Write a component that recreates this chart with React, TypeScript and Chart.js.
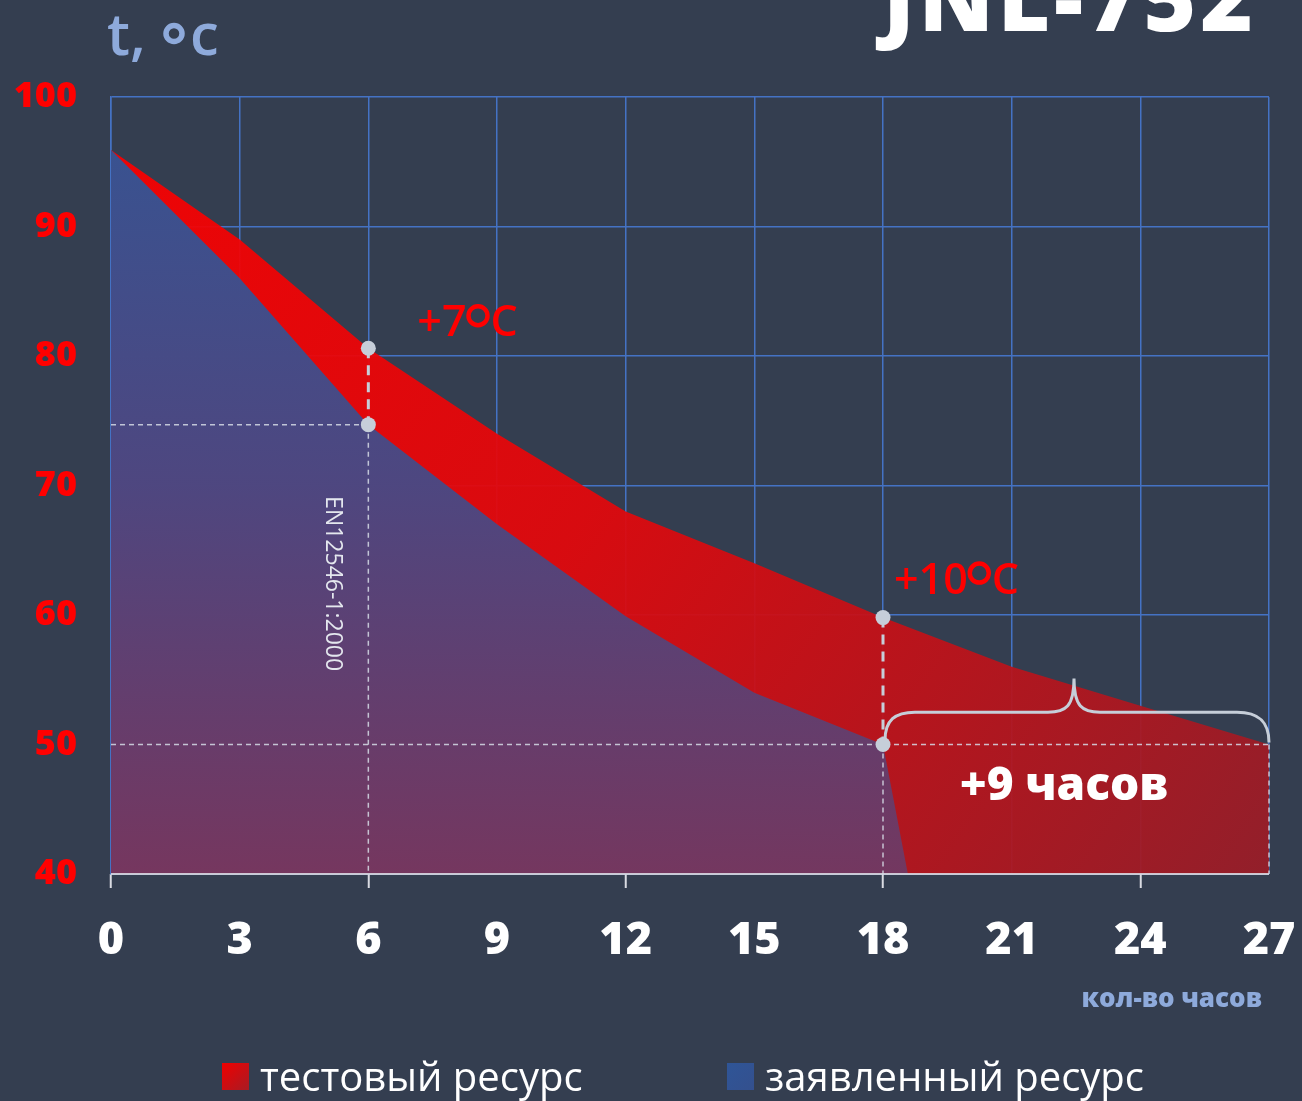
import React, { useEffect, useRef } from "react";
import { Chart, registerables } from "chart.js";
Chart.register(...registerables);

// ---- data ----
const hours = [0, 3, 6, 9, 12, 15, 18, 21, 24, 27];
const testTemps = [95.9, 89.0, 80.6, 74.0, 68.0, 64.0, 59.8, 56.0, 53.0, 50.0];
const declaredHours = [0, 3, 6, 9, 12, 15, 18, 18.58];
const declaredTemps = [95.9, 86.0, 74.7, 67.0, 59.9, 54.0, 50.0, 40.0];
const yTicks = [40, 50, 60, 70, 80, 90, 100];
const seriesNames = ["тестовый ресурс", "заявленный ресурс"];
const markerIndex = [2, 6];
const deltaLabels = ["+7", "+10"];
const limitTemp = 50;
const limitHours = [18, 27];
const extraLabel = "+9 часов";
const standardLabel = "EN12546-1:2000";
const titleText = "JNL-752";
const yTitle = ["t,", "c"];
const xTitle = "кол-во часов";

const BG = "#343e50";
const GRID = "#4472c4";
const LIGHT = "#c6ced9";
const FONT = '"Open Sans", sans-serif';

function redGradient(ctx: CanvasRenderingContext2D, a: any) {
  const g = ctx.createLinearGradient(a.left, a.top, a.right, a.bottom);
  g.addColorStop(0, "rgba(250,0,0,0.94)");
  g.addColorStop(0.45, "rgba(226,8,12,0.94)");
  g.addColorStop(1, "rgba(152,29,40,0.94)");
  return g;
}
function blueGradient(ctx: CanvasRenderingContext2D, a: any) {
  const g = ctx.createLinearGradient(0, a.top, 0, a.bottom);
  g.addColorStop(0, "rgba(44,88,154,0.95)");
  g.addColorStop(0.5, "rgba(70,74,134,0.95)");
  g.addColorStop(1, "rgba(112,57,99,0.95)");
  return g;
}

const annotPlugin = {
  id: "annot",
  beforeDraw(chart: any) {
    const c = chart.ctx;
    c.save();
    c.fillStyle = BG;
    c.fillRect(0, 0, chart.width, chart.height);
    c.restore();
  },
  afterDatasetsDraw(chart: any) {
    const c: CanvasRenderingContext2D = chart.ctx;
    const xs = (v: number) => chart.scales.x.getPixelForValue(v);
    const ys = (v: number) => chart.scales.y.getPixelForValue(v);
    const yMin = yTicks[0];
    c.save();
    // bottom axis line
    c.strokeStyle = "rgba(222,224,232,0.85)";
    c.lineWidth = 2;
    c.beginPath();
    c.moveTo(xs(hours[0]), ys(yMin));
    c.lineTo(xs(hours[hours.length - 1]), ys(yMin));
    c.stroke();

    // thin dashed guides
    c.strokeStyle = "rgba(214,220,230,0.85)";
    c.lineWidth = 1.5;
    c.setLineDash([5, 4]);
    const m0 = markerIndex[0];
    const m1 = markerIndex[1];
    const thin = (x1: number, y1: number, x2: number, y2: number) => {
      c.beginPath();
      c.moveTo(x1, y1);
      c.lineTo(x2, y2);
      c.stroke();
    };
    thin(xs(0), ys(declaredTemps[m0]), xs(hours[m0]), ys(declaredTemps[m0]));
    thin(xs(hours[m0]), ys(declaredTemps[m0]), xs(hours[m0]), ys(yMin));
    thin(xs(0), ys(limitTemp), xs(limitHours[1]), ys(limitTemp));
    thin(xs(limitHours[0]), ys(limitTemp), xs(limitHours[0]), ys(yMin));
    thin(xs(limitHours[1]), ys(limitTemp), xs(limitHours[1]), ys(yMin));

    // thick dashed between markers
    c.strokeStyle = LIGHT;
    c.lineWidth = 3;
    c.setLineDash([10, 7]);
    markerIndex.forEach((mi) => {
      c.beginPath();
      c.moveTo(xs(hours[mi]), ys(testTemps[mi]));
      c.lineTo(xs(hours[mi]), ys(declaredTemps[mi]));
      c.stroke();
    });
    c.setLineDash([]);

    // brace
    const bx0 = xs(limitHours[0]);
    const bx1 = xs(limitHours[1]);
    const by = ys(limitTemp);
    const hy = ys(52.5);
    const py = ys(55.1);
    const mx = (bx0 + bx1) / 2 - 2;
    c.strokeStyle = LIGHT;
    c.lineWidth = 3;
    c.beginPath();
    c.moveTo(bx0 + 2, by - 4);
    c.bezierCurveTo(bx0 + 2, hy + 8, bx0 + 12, hy, bx0 + 32, hy);
    c.lineTo(mx - 26, hy);
    c.bezierCurveTo(mx - 8, hy, mx, hy - 6, mx, py);
    c.moveTo(mx, py);
    c.bezierCurveTo(mx, hy - 6, mx + 8, hy, mx + 26, hy);
    c.lineTo(bx1 - 32, hy);
    c.bezierCurveTo(bx1 - 12, hy, bx1, hy + 8, bx1, by - 2);
    c.stroke();

    // marker dots
    c.fillStyle = LIGHT;
    markerIndex.forEach((mi) => {
      [testTemps[mi], declaredTemps[mi]].forEach((t) => {
        c.beginPath();
        c.arc(xs(hours[mi]), ys(t), 7.5, 0, Math.PI * 2);
        c.fill();
      });
    });

    // delta labels
    const drawDelta = (txt: string, x: number, base: number) => {
      const size = 43;
      c.font = `600 ${size}px ${FONT}`;
      c.fillStyle = "#ff0000";
      c.textAlign = "left";
      c.textBaseline = "alphabetic";
      c.fillText(txt, x, base);
      const w = c.measureText(txt).width;
      const r = 9.5;
      c.strokeStyle = "#ff0000";
      c.lineWidth = 4.5;
      c.beginPath();
      c.arc(x + w + r + 2, base - 31 + r + 1, r, 0, Math.PI * 2);
      c.stroke();
      c.fillText("C", x + w + 2 * r + 5, base);
    };
    drawDelta(deltaLabels[0], xs(hours[m0]) + 49, ys(testTemps[m0]) - 12);
    drawDelta(deltaLabels[1], xs(hours[m1]) + 11, ys(testTemps[m1]) - 24);

    // +9 часов
    c.font = `800 46px ${FONT}`;
    c.fillStyle = "#ffffff";
    c.textAlign = "center";
    c.fillText(extraLabel, (bx0 + bx1) / 2 - 12, by + 55);

    // standard label rotated
    c.save();
    c.translate(xs(hours[m0]) - 36, ys(declaredTemps[m0]) + 159);
    c.rotate(Math.PI / 2);
    c.font = `400 23px ${FONT}`;
    c.fillStyle = "#e4e7ee";
    c.textAlign = "center";
    c.textBaseline = "middle";
    c.fillText(standardLabel, 0, 0);
    c.restore();
    c.restore();
  },
  afterDraw(chart: any) {
    const c: CanvasRenderingContext2D = chart.ctx;
    c.save();
    // title
    c.font = `800 90px ${FONT}`;
    c.fillStyle = "#ffffff";
    c.textAlign = "right";
    c.textBaseline = "alphabetic";
    (c as any).letterSpacing = "4px";
    c.fillText(titleText, 1257, 31);
    (c as any).letterSpacing = "0px";
    // y title
    c.font = `600 58px ${FONT}`;
    c.fillStyle = "#8eaadb";
    c.textAlign = "left";
    c.fillText(yTitle[0], 107, 55);
    c.strokeStyle = "#8eaadb";
    c.lineWidth = 5.5;
    c.beginPath();
    c.arc(174, 33.5, 8, 0, Math.PI * 2);
    c.stroke();
    c.fillText(yTitle[1], 190, 55);
    // x title
    c.font = `800 26px ${FONT}`;
    c.textAlign = "right";
    c.fillText(xTitle, 1262, 1007);
    // legend
    const items = [
      { x: 222, name: seriesNames[0], red: true },
      { x: 727, name: seriesNames[1], red: false },
    ];
    items.forEach((it) => {
      const g = c.createLinearGradient(it.x, 1063, it.x + 27, 1090);
      if (it.red) {
        g.addColorStop(0, "#f00000");
        g.addColorStop(1, "#a81b24");
      } else {
        g.addColorStop(0, "#2f5597");
        g.addColorStop(1, "#34508e");
      }
      c.fillStyle = g;
      c.fillRect(it.x, 1063, 27, 27);
      c.font = `500 40px ${FONT}`;
      c.fillStyle = "#ffffff";
      c.textAlign = "left";
      c.fillText(it.name, it.x + 38, 1091);
    });
    c.restore();
  },
};

export default function App() {
  const ref = useRef<HTMLCanvasElement | null>(null);
  useEffect(() => {
    if (!ref.current) return;
    const chart = new Chart(ref.current, {
      type: "line",
      data: {
        datasets: [
          {
            label: seriesNames[0],
            data: hours.map((h, i) => ({ x: h, y: testTemps[i] })),
            fill: "start",
            borderWidth: 0,
            borderColor: "transparent",
            pointRadius: 0,
            tension: 0,
            order: 2,
            backgroundColor: (ctx: any) => {
              const a = ctx.chart.chartArea;
              if (!a) return "#e00000";
              return redGradient(ctx.chart.ctx, a);
            },
          },
          {
            label: seriesNames[1],
            data: declaredHours.map((h, i) => ({ x: h, y: declaredTemps[i] })),
            fill: "start",
            borderWidth: 0,
            borderColor: "transparent",
            pointRadius: 0,
            tension: 0,
            order: 1,
            backgroundColor: (ctx: any) => {
              const a = ctx.chart.chartArea;
              if (!a) return "#3f4f8f";
              return blueGradient(ctx.chart.ctx, a);
            },
          },
        ],
      },
      options: {
        animation: false,
        responsive: false,
        maintainAspectRatio: false,
        devicePixelRatio: 1,
        layout: { padding: { left: 0, right: 33, top: 97, bottom: 0 } },
        plugins: { legend: { display: false }, tooltip: { enabled: false } },
        scales: {
          x: {
            type: "linear",
            min: hours[0],
            max: hours[hours.length - 1],
            afterFit: (s: any) => {
              s.height = 227;
              s.paddingLeft = 0;
              s.paddingRight = 0;
            },
            afterBuildTicks: (s: any) => {
              s.ticks = hours.map((v) => ({ value: v }));
            },
            ticks: {
              autoSkip: false,
              maxRotation: 0,
              color: "#ffffff",
              padding: 26,
              font: { family: FONT, size: 45, weight: "800" },
            },
            grid: {
              color: GRID,
              lineWidth: 1.5,
              tickLength: 14,
              tickWidth: 2,
              tickColor: (ctx: any) =>
                ctx.tick && ctx.tick.value % 6 === 0 ? "#d9dbe2" : "rgba(0,0,0,0)",
            },
            border: { display: false },
          },
          y: {
            type: "linear",
            min: yTicks[0],
            max: yTicks[yTicks.length - 1],
            afterFit: (s: any) => {
              s.width = 111;
              s.paddingTop = 0;
              s.paddingBottom = 0;
            },
            afterBuildTicks: (s: any) => {
              s.ticks = yTicks.map((v) => ({ value: v }));
            },
            ticks: {
              color: "#ff0000",
              padding: 34,
              font: { family: FONT, size: 36, weight: "800" },
            },
            grid: { color: GRID, lineWidth: 1.5, drawTicks: false },
            border: { color: GRID, width: 1.5 },
          },
        },
      },
      plugins: [annotPlugin],
    } as any);
    return () => chart.destroy();
  }, []);
  return (
    <div
      style={{
        position: "fixed",
        left: 0,
        top: 0,
        width: 1302,
        height: 1101,
        background: BG,
      }}
    >
      <canvas ref={ref} width={1302} height={1101} style={{ display: "block" }} />
    </div>
  );
}
